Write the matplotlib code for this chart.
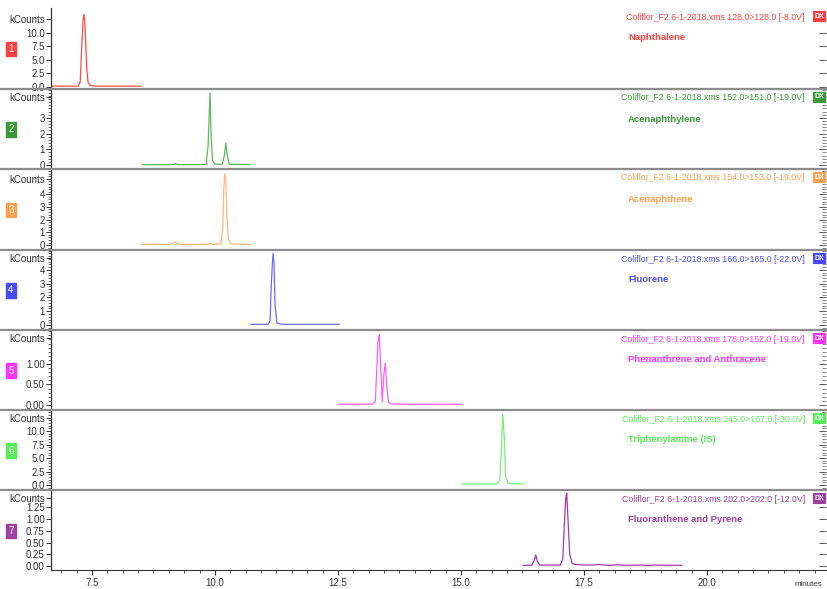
import numpy as np
import matplotlib
matplotlib.use('Agg')
import matplotlib.pyplot as plt
from matplotlib.lines import Line2D
from matplotlib.ticker import AutoMinorLocator, MultipleLocator, FormatStrFormatter

plt.rcParams['font.family'] = ['Liberation Sans', 'DejaVu Sans']

# Trace data (time in minutes, intensity in kCounts)
t1 = [6.67, 7.22, 7.26, 7.29, 7.32, 7.34, 7.36, 7.39, 7.42, 7.46, 7.55, 8.50]
v1 = [0.1, 0.1, 0.8, 7.0, 12.5, 13.4, 11.0, 4.0, 0.8, 0.25, 0.1, 0.1]

t2 = [8.52, 9.15, 9.20, 9.25, 9.82, 9.86, 9.88, 9.90, 9.92, 9.95, 10.0, 10.15, 10.19, 10.22, 10.25, 10.29, 10.71]
v2 = [0.02, 0.02, 0.08, 0.02, 0.03, 1.2, 3.0, 4.6, 2.0, 0.3, 0.05, 0.05, 0.6, 1.4, 0.6, 0.05, 0.03]

t3 = [8.52, 9.10, 9.16, 9.19, 9.23, 9.30, 9.85, 9.90, 9.95, 10.12, 10.16, 10.18, 10.20, 10.22, 10.24, 10.27, 10.32, 10.71]
v3 = [0.05, 0.05, 0.15, 0.25, 0.12, 0.05, 0.05, 0.12, 0.05, 0.1, 1.5, 4.5, 5.6, 5.2, 2.5, 0.5, 0.08, 0.05]

t4 = [10.73, 11.08, 11.12, 11.14, 11.16, 11.18, 11.20, 11.22, 11.26, 11.35, 12.52]
v4 = [0.05, 0.05, 0.3, 2.5, 4.0, 5.2, 4.5, 1.5, 0.15, 0.05, 0.05]

t5 = [12.52, 13.20, 13.26, 13.29, 13.31, 13.34, 13.37, 13.40, 13.43, 13.46, 13.49, 13.53, 13.60, 15.02]
v5 = [0.02, 0.02, 0.1, 0.9, 1.5, 1.73, 0.9, 0.08, 0.7, 1.02, 0.5, 0.06, 0.02, 0.02]

t6 = [15.02, 15.74, 15.79, 15.82, 15.85, 15.88, 15.91, 15.96, 16.24]
v6 = [0.2, 0.2, 1.0, 6.0, 13.1, 9.0, 1.5, 0.3, 0.2]

t7 = [16.26, 16.44, 16.49, 16.52, 16.55, 16.60, 17.02, 17.07, 17.10, 17.13, 17.15, 17.18, 17.21, 17.26,
      17.35, 17.6, 17.8, 18.0, 18.2, 18.4, 18.6, 18.8, 19.0, 19.2, 19.49]
v7 = [0.01, 0.02, 0.12, 0.24, 0.1, 0.02, 0.02, 0.15, 0.85, 1.45, 1.55, 0.9, 0.25, 0.05,
      0.03, 0.02, 0.03, 0.015, 0.025, 0.015, 0.02, 0.015, 0.02, 0.015, 0.015]

compounds = ['Naphthalene', 'Acenaphthylene', 'Acenaphthene', 'Fluorene',
             'Phenanthrene and Anthracene', 'Triphenylamine (IS)', 'Fluoranthene and Pyrene']
transitions = ['128.0>128.0 [-8.0V]', '152.0>151.0 [-19.0V]', '154.0>153.0 [-19.0V]',
               '166.0>165.0 [-22.0V]', '178.0>152.0 [-19.0V]', '245.0>167.0 [-30.0V]',
               '202.0>202.0 [-12.0V]']
yticks = [[0, 2.5, 5, 7.5, 10], [0, 1, 2, 3], [0, 1, 2, 3, 4], [0, 1, 2, 3, 4],
          [0, 0.5, 1.0], [0, 2.5, 5, 7.5, 10], [0, 0.25, 0.5, 0.75, 1.0, 1.25]]
yfmt = ['%.1f', '%d', '%d', '%d', '%.2f', '%.1f', '%.2f']
kcount_pos = [12.5, 4.3, 5.2, 4.9, 1.63, 12.4, 1.46]
ylims = [(-0.25, 14.6), (-0.19, 4.84), (-0.31, 5.98), (-0.29, 5.45),
         (-0.098, 1.83), (-0.74, 13.9), (-0.085, 1.62)]
minor = [False, True, True, True, True, True, False]

traces = [(t1, v1), (t2, v2), (t3, v3), (t4, v4), (t5, v5), (t6, v6), (t7, v7)]
line_colors = ['#ff4a4a', '#5cb85c', '#ffb878', '#6b6bff', '#ff5cff', '#7aee7a', '#a83aa8']
text_colors = ['#ff4040', '#3a9a3a', '#ffa050', '#4a4aff', '#ff33ff', '#55ee55', '#a040a0']

# panel pixel extents (top, bottom)
panels = [(8, 88), (89, 168), (169, 249), (250, 329), (330, 409), (410, 489), (490, 570)]
W, H = 828, 589
left_px, right_px = 51, 826

fig = plt.figure(figsize=(W / 100, H / 100), dpi=100)

for i, (top, bot) in enumerate(panels):
    ax = fig.add_axes([left_px / W, 1 - bot / H, (right_px - left_px) / W, (bot - top) / H])
    t, v = traces[i]
    ax.plot(t, v, color=line_colors[i], lw=0.9)
    ax.set_xlim(6.667, 22.42)
    ax.set_ylim(*ylims[i])
    for s in ['top', 'right', 'bottom']:
        ax.spines[s].set_visible(False)
    ax.spines['left'].set_color('#333333')
    ax.spines['left'].set_linewidth(0.9)

    ticks = yticks[i] + [kcount_pos[i]]
    labels = [yfmt[i] % x for x in yticks[i]] + ['kCounts']
    ax.set_yticks(ticks)
    ax.set_yticklabels(labels)
    if minor[i]:
        ax.yaxis.set_minor_locator(AutoMinorLocator(5))
    ax.tick_params(axis='y', which='major', labelsize=7, length=3.5, width=0.7,
                   colors='#333333', pad=1)
    ax.tick_params(axis='y', which='minor', length=2, width=0.5, colors='#333333')

    # right-side inward ticks
    ax2 = ax.twinx()
    ax2.set_ylim(*ylims[i])
    ax2.set_yticks(ticks)
    ax2.set_yticklabels([])
    if minor[i]:
        ax2.yaxis.set_minor_locator(AutoMinorLocator(5))
    ax2.tick_params(axis='y', which='major', direction='in', length=5, width=0.7, colors='#555555')
    ax2.tick_params(axis='y', which='minor', direction='in', length=3, width=0.5, colors='#555555')
    for s in ax2.spines.values():
        s.set_visible(False)

    if i < 6:
        ax.set_xticks([])
        fig.add_artist(Line2D([0, 1], [1 - (bot + 0.5) / H] * 2, transform=fig.transFigure,
                              color='#8c8c8c', lw=1.6))
    else:
        ax.spines['bottom'].set_visible(True)
        ax.spines['bottom'].set_color('#333333')
        ax.set_xticks([7.5, 10.0, 12.5, 15.0, 17.5, 20.0])
        ax.xaxis.set_minor_locator(AutoMinorLocator(8))
        ax.xaxis.set_major_formatter(FormatStrFormatter('%.1f'))
        ax.tick_params(axis='x', which='major', labelsize=7, length=3.5, colors='#333333', pad=2)
        ax.tick_params(axis='x', which='minor', length=2.5, colors='#333333')

    # header text
    fig.text(805 / W, 1 - (top + 9) / H, 'Coliflor_F2 6-1-2018.xms ' + transitions[i],
             ha='right', va='center', fontsize=6.3, color=text_colors[i])
    fig.text(628 / W, 1 - (top + 30) / H, compounds[i], ha='left', va='center',
             fontsize=6.8, fontweight='bold', color=text_colors[i])
    fig.text(819 / W, 1 - (top + 8) / H, 'DX', ha='center', va='center', fontsize=5,
             color='white', fontweight='bold',
             bbox=dict(boxstyle='square,pad=0.15', fc=text_colors[i], ec=text_colors[i], lw=0.8))
    # panel number box
    fig.text(11 / W, 1 - ((top + bot) / 2 + 1) / H, str(i + 1), ha='center', va='center',
             fontsize=7, color='white',
             bbox=dict(boxstyle='square,pad=0.25', fc=text_colors[i], ec=text_colors[i], lw=1))

fig.text(808 / W, 1 - 585 / H, 'minutes', ha='center', va='center', fontsize=5.8, color='#333333')

fig.savefig('out.png', dpi=100)
